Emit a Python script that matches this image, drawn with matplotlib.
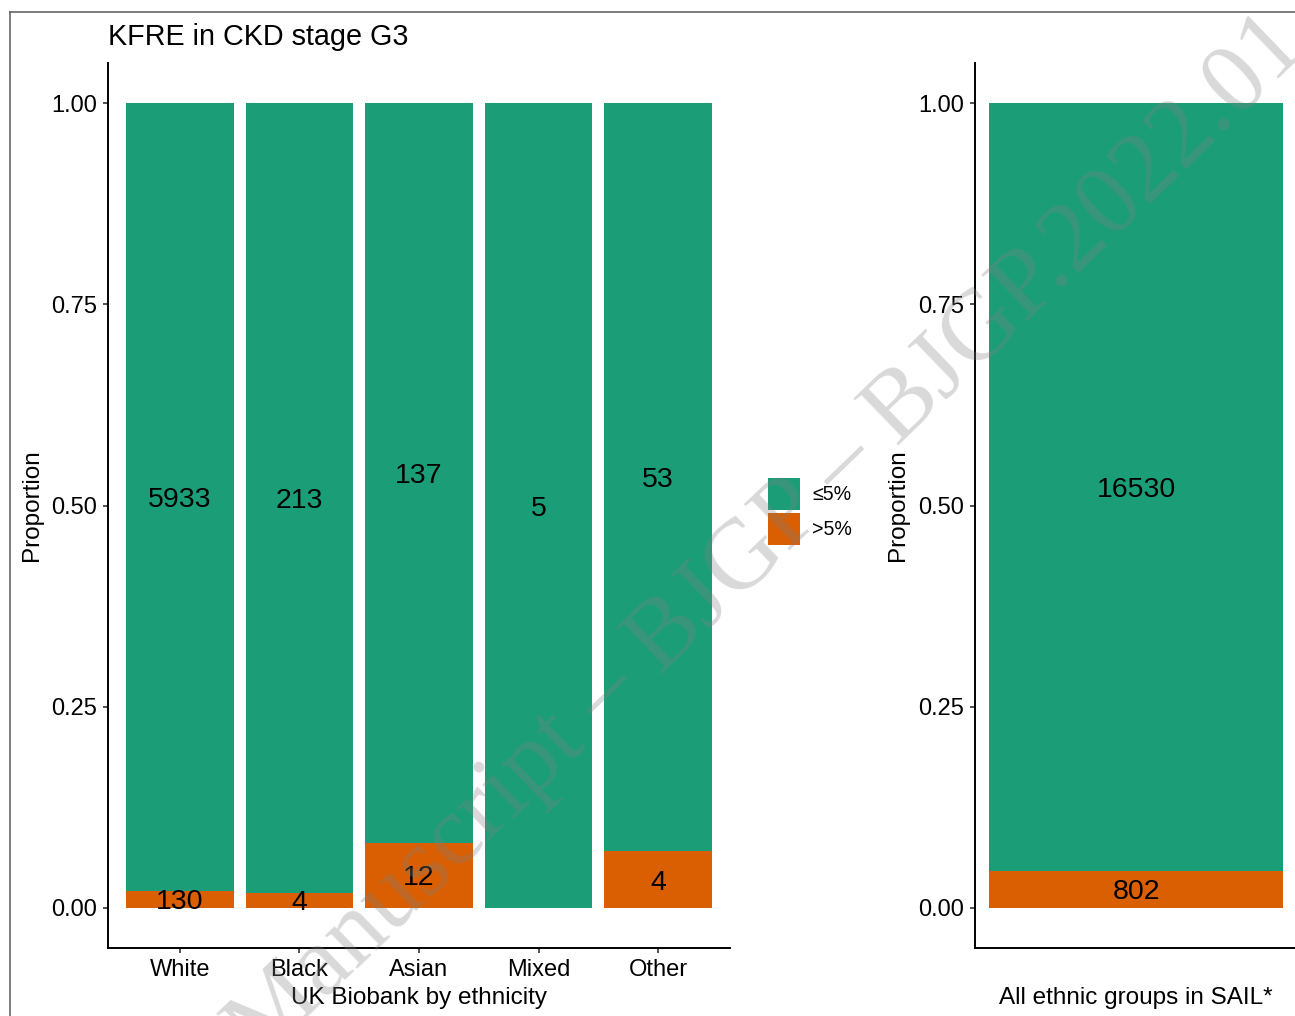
import numpy as np
import matplotlib
matplotlib.use("Agg")
import matplotlib.pyplot as plt
from matplotlib.patches import Patch
from matplotlib.lines import Line2D

plt.rcParams['font.family'] = ['Liberation Sans', 'DejaVu Sans']

# data
groups = ["White", "Black", "Asian", "Mixed", "Other"]
low_risk = [5933, 213, 137, 5, 53]     # KFRE <=5%
high_risk = [130, 4, 12, 0, 4]         # KFRE >5%
sail_low = [16530]
sail_high = [802]
legend_labels = ["≤5%", ">5%"]
yticks = [0.0, 0.25, 0.5, 0.75, 1.0]

GREEN = "#1B9E77"
ORANGE = "#D95F02"

W, H = 1295, 1016
fig = plt.figure(figsize=(W / 100, H / 100), dpi=100)


def px_axes(x0, y0, x1, y1):
    # pixel box (top-left origin) -> figure axes
    return fig.add_axes([x0 / W, 1 - y1 / H, (x1 - x0) / W, (y1 - y0) / H])


def style_axes(ax, ylab_x):
    for s in ["top", "right"]:
        ax.spines[s].set_visible(False)
    for s in ["left", "bottom"]:
        ax.spines[s].set_linewidth(1.4)
        ax.spines[s].set_color("black")
    ax.set_ylim(-0.05, 1.05)
    ax.set_yticks(yticks)
    ax.set_yticklabels([f"{t:.2f}" for t in yticks])
    ax.tick_params(axis="both", length=3.8, width=1.2, color="#333333",
                   labelsize=17, labelcolor="black", pad=4)
    ax.set_ylabel("Proportion", fontsize=17.5, va="center", ha="center")
    ax.yaxis.set_label_coords(ylab_x, 0.5)


def seg_label(ax, x, y, n):
    # count label in the middle of a stacked segment
    ax.annotate(f"{int(n)}", (x, y), xytext=(0, -2.2), textcoords="offset points",
                ha="center", va="center", fontsize=20.5)


def stacked(ax, xs, low, high, width):
    low = np.array(low, dtype=float)
    high = np.array(high, dtype=float)
    tot = low + high
    p_hi = high / tot
    p_lo = low / tot
    ax.bar(xs, p_hi, width=width, color=ORANGE, linewidth=0)
    ax.bar(xs, p_lo, bottom=p_hi, width=width, color=GREEN, linewidth=0)
    for x, n_lo, n_hi, ph, pl in zip(xs, low, high, p_hi, p_lo):
        if n_hi > 0:
            seg_label(ax, x, ph / 2, n_hi)
        if n_lo > 0:
            seg_label(ax, x, ph + pl / 2, n_lo)


xlab_y = (948 - 998) / 885

# left panel: UK Biobank
ax1 = px_axes(108, 63, 730, 948)
xs = np.arange(1, len(groups) + 1)
stacked(ax1, xs, low_risk, high_risk, 0.9)
ax1.set_xlim(0.4, len(groups) + 0.6)
ax1.set_xticks(xs)
ax1.set_xticklabels(groups)
style_axes(ax1, (32 - 108) / 622)
ax1.set_xlabel("UK Biobank by ethnicity", fontsize=17.5, va="center")
ax1.xaxis.set_label_coords(0.5, xlab_y)
fig.text(108 / W, 1 - 45 / H, "KFRE in CKD stage G3", fontsize=20.7, ha="left", va="baseline")

# right panel: SAIL
ax2 = px_axes(975, 63, 1297, 948)
stacked(ax2, [0], sail_low, sail_high, 0.9)
half = 0.45 * 322 / 294
ax2.set_xlim(-half, half)
ax2.set_xticks([])
style_axes(ax2, (898 - 975) / 322)
ax2.set_xlabel("All ethnic groups in SAIL*", fontsize=17.5, va="center")
ax2.xaxis.set_label_coords(0.5, xlab_y)

# legend between panels
handles = [Patch(facecolor=GREEN, linewidth=0), Patch(facecolor=ORANGE, linewidth=0)]
fig.legend(handles, legend_labels, loc="upper left",
           bbox_to_anchor=(768 / W, 1 - 478 / H), frameon=False,
           fontsize=14.1, handlelength=1.634, handleheight=2.137,
           labelspacing=0.153, handletextpad=0.61, borderpad=0, borderaxespad=0)

# page frame (top and left edges)
fig.add_artist(Line2D([10 / W, 1.01], [1 - 12 / H, 1 - 12 / H], color="#666666", lw=1.2))
fig.add_artist(Line2D([10 / W, 10 / W], [-0.01, 1 - 12 / H], color="#666666", lw=1.2))

# journal watermark
fig.text(1309 / W, 1 - 49 / H, "Accepted Manuscript \u2013 BJGP \u2013 BJGP.2022.01",
         rotation=44, rotation_mode="anchor", ha="right", va="baseline",
         fontsize=72, family="Liberation Serif", color="#808080", alpha=0.3,
         zorder=10)

fig.savefig("out.png", dpi=100)
